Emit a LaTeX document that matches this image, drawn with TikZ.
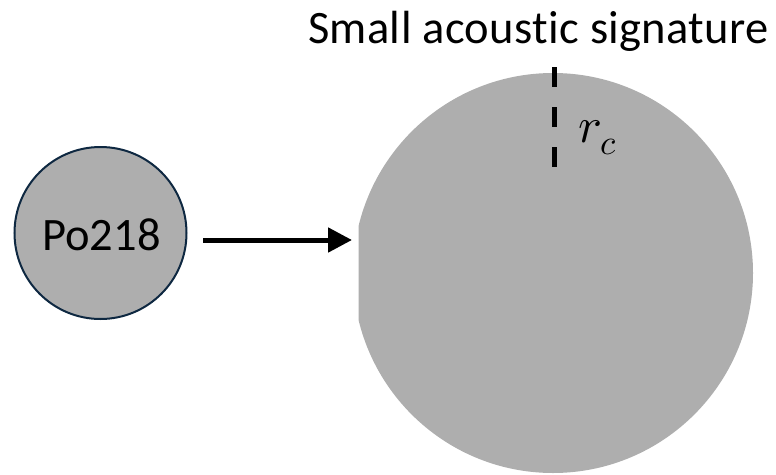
\documentclass[tikz,border=0pt]{standalone}
\usepackage{fontspec}
\usepackage{unicode-math}
\setmainfont[Ligatures=NoCommon]{Carlito}
\newfontfamily\titlefont[Ligatures=NoCommon,LetterSpace=0.8]{Carlito}
\setmathfont{Latin Modern Math}
\usetikzlibrary{arrows.meta}
\definecolor{circgray}{HTML}{AEAEAE}
\definecolor{edgenavy}{HTML}{0E2841}
\begin{document}
\begin{tikzpicture}[x=1pt,y=-1pt,
  atom/.style={circle,fill=circgray,draw=edgenavy,line width=2pt,minimum size=172pt,inner sep=0pt},
  arr/.style={line width=5pt,-{Triangle[length=24pt,width=24pt]}},
  radius line/.style={line width=5pt,dash pattern=on 20pt off 20pt}]
\useasboundingbox (0,0) rectangle (776,474);
\begin{scope}
  \clip (358.5,0) rectangle (776,474);
  \fill[circgray] (553,273) circle[radius=200];
\end{scope}
\node[atom] (po) at (100.5,233) {};
\node[anchor=base,inner sep=0pt,font=\fontsize{46.5}{54}\selectfont] (potext) at (101.5,250) {Po218};
\coordinate (bigleft) at (352,240);
\coordinate (rtop) at (554,67);
\coordinate (rbot) at (554,168);
\draw[arr] (203,240) -- (bigleft);
\draw[radius line] (rtop) -- (rbot);
\node[anchor=base,font=\titlefont\fontsize{46.5}{54}\selectfont,inner sep=0pt] (title) at (538.5,43) {Small acoustic signature};
\node[anchor=base west,inner sep=0pt,font=\fontsize{50}{58}\selectfont] (rc) at (578,142) {$r_c$};
\end{tikzpicture}
\end{document}
